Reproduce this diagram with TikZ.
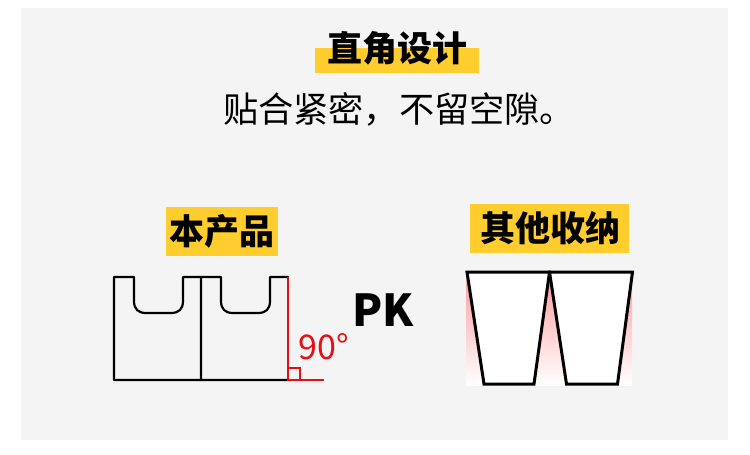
\documentclass[tikz,border=0pt]{standalone}
\usepackage{fontspec}
\setmainfont{Noto Sans CJK SC}
\definecolor{panelgray}{HTML}{F4F4F4}
\definecolor{tagyellow}{HTML}{FFCE2E}
\definecolor{markred}{HTML}{E60F14}
\definecolor{gappink}{HTML}{FF9A9E}
\tikzset{
  tagtext/.style={font=\fontsize{35}{35}\bfseries\selectfont, inner sep=0pt},
  tagbar/.style={fill=tagyellow, draw=none},
  outline/.style={line width=2.2pt, line join=round, line cap=round},
  cupline/.style={line width=3pt, line join=miter},
}
\begin{document}
\begin{tikzpicture}[x=1pt, y=-1pt]
      \useasboundingbox (0, 0) rectangle (750, 455);
      \fill [white] (0, 0) rectangle (750, 455);
      \fill [panelgray] (21, 8) rectangle (728, 440);
      % headline
      \fill [tagbar] (315, 47.7) rectangle (479, 72.7);
      \node [tagtext] (headline) at (397.5, 48) {直角设计};
      \node [font=\fontsize{35.2}{35.2}\selectfont, inner sep=0pt] (subline) at (399, 109.5) {贴合紧密，不留空隙。};
      % left
      \fill [tagbar] (166, 207) rectangle (278, 256);
      \node [tagtext] (ownlabel) at (222, 231.5) {本产品};
      \foreach \cellx in {114, 201} {
        \draw [outline, shift={(\cellx, 0)}] (87, 380) -- (0, 380) -- (0, 277) -- (20, 277) -- (20, 301)
          .. controls (20, 309) and (24, 313) .. (32, 313) -- (57, 313)
          .. controls (65, 313) and (69, 309) .. (69, 301) -- (69, 277) -- (87, 277);
      }
      \draw [markred, line width=2pt] (288, 277) -- (288, 380) -- (324, 380);
      \draw [markred, line width=1.5pt] (288, 368) -- (300, 368) -- (300, 380);
      \node [markred, font=\fontsize{34}{34}\selectfont, inner sep=0pt] (anglelabel) at (323.5, 347) {90°};
      \node [font=\fontsize{44}{44}\bfseries\selectfont, inner sep=0pt] (versus) at (383, 310.5) {PK};
      % right
      \fill [tagbar] (470, 204) rectangle (629, 252.7);
      \node [tagtext] (otherlabel) at (550, 228.5) {其他收纳};
      \shade [top color=gappink, bottom color=white] (466.7, 272) rectangle (632, 385);
      \draw [cupline, fill=white] (467, 272) -- (549.5, 272) -- (534, 384) -- (484, 384) -- cycle;
      \draw [cupline, fill=white] (549.5, 272) -- (632.5, 272) -- (617.5, 384) -- (566.5, 384) -- cycle;
    \end{tikzpicture}
\end{document}
